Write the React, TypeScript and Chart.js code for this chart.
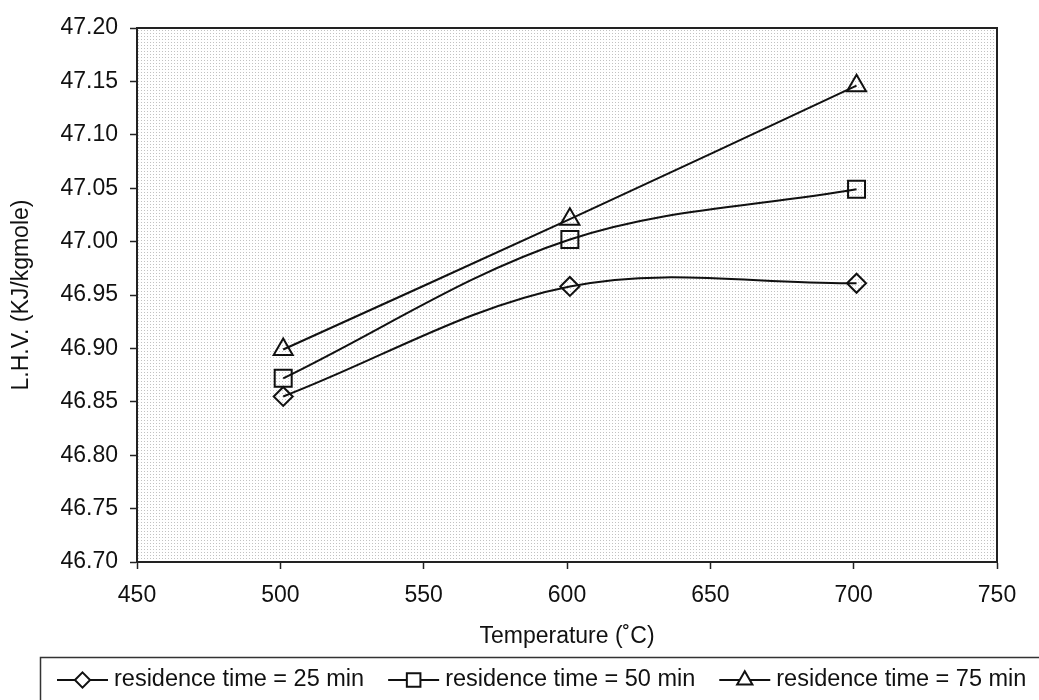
import React, { useEffect, useRef } from "react";
import { Chart, registerables } from "chart.js";

Chart.register(...registerables);

const temperatures = [501, 601, 701];
const lhv25 = [46.855, 46.958, 46.961];
const lhv50 = [46.872, 47.002, 47.049];
const lhv75 = [46.899, 47.021, 47.146];
const seriesLabels = [
  "residence time = 25 min",
  "residence time = 50 min",
  "residence time = 75 min",
];
const seriesMarkers = ["rectRot", "rect", "triangle"];
const markerRadius = [9.5, 12, 11];
const xTicks = [450, 500, 550, 600, 650, 700, 750];
const yTicks = [46.7, 46.75, 46.8, 46.85, 46.9, 46.95, 47.0, 47.05, 47.1, 47.15, 47.2];
const xTitle = "Temperature (˚C)";
const yTitle = "L.H.V. (KJ/kgmole)";

const FONT = "'Liberation Sans', Arial, sans-serif";
const INK = "#111";

function drawMarker(ctx: CanvasRenderingContext2D, style: string, r: number, cx: number, cy: number) {
  ctx.save();
  ctx.strokeStyle = INK;
  ctx.lineWidth = 2;
  ctx.fillStyle = "#fff";
  ctx.beginPath();
  if (style === "rectRot") {
    ctx.moveTo(cx, cy - r);
    ctx.lineTo(cx + r, cy);
    ctx.lineTo(cx, cy + r);
    ctx.lineTo(cx - r, cy);
    ctx.closePath();
  } else if (style === "rect") {
    const s = r * Math.SQRT1_2;
    ctx.rect(cx - s, cy - s, 2 * s, 2 * s);
  } else {
    const w = r * Math.sin(Math.PI / 3);
    ctx.moveTo(cx, cy - r);
    ctx.lineTo(cx + w, cy + r / 2);
    ctx.lineTo(cx - w, cy + r / 2);
    ctx.closePath();
  }
  ctx.fill();
  ctx.stroke();
  ctx.restore();
}

export default function App() {
  const ref = useRef<HTMLCanvasElement | null>(null);

  useEffect(() => {
    if (!ref.current) return;
    const tile = document.createElement("canvas");
    tile.width = 3;
    tile.height = 3;
    const tctx = tile.getContext("2d")!;
    tctx.fillStyle = "#c2c2c2";
    tctx.fillRect(0, 0, 1, 1);

    const seriesValues = [lhv25, lhv50, lhv75];

    const plotPlugin = {
      id: "plotDecor",
      beforeDatasetsDraw(chart: any) {
        const { ctx, chartArea: a } = chart;
        ctx.save();
        const pat = ctx.createPattern(tile, "repeat");
        ctx.fillStyle = pat;
        ctx.fillRect(a.left, a.top, a.right - a.left, a.bottom - a.top);
        ctx.restore();
      },
      afterDraw(chart: any) {
        const { ctx, chartArea: a } = chart;
        ctx.save();
        ctx.strokeStyle = "#222";
        ctx.lineWidth = 2;
        ctx.strokeRect(a.left, a.top, a.right - a.left, a.bottom - a.top);

        // legend box
        ctx.lineWidth = 1.5;
        ctx.strokeStyle = "#333";
        ctx.strokeRect(40.5, 657.5, 1020, 80);
        ctx.font = `23.5px ${FONT}`;
        ctx.textBaseline = "middle";
        const y = 680;
        let x = 57;
        seriesLabels.forEach((label, i) => {
          const lineW = 51;
          ctx.strokeStyle = INK;
          ctx.lineWidth = 2;
          ctx.beginPath();
          ctx.moveTo(x, y);
          ctx.lineTo(x + lineW, y);
          ctx.stroke();
          drawMarker(ctx, seriesMarkers[i], markerRadius[i] * 0.8, x + lineW / 2, y);
          ctx.fillStyle = INK;
          ctx.fillText(label, x + lineW + 6, y);
          const tw = ctx.measureText(label).width;
          x = x + lineW + 6 + tw + 24;
        });
        ctx.restore();
      },
    };

    const chart = new Chart(ref.current, {
      type: "line",
      data: {
        datasets: seriesValues.map((vals, i) => ({
          label: seriesLabels[i],
          data: temperatures.map((t, j) => ({ x: t, y: vals[j] })),
          borderColor: INK,
          borderWidth: 2,
          backgroundColor: "rgba(0,0,0,0)",
          pointStyle: seriesMarkers[i] as any,
          pointRadius: markerRadius[i],
          pointBorderWidth: 2,
          pointBorderColor: INK,
          pointBackgroundColor: "rgba(0,0,0,0)",
          tension: 0.35,
          fill: false,
        })),
      },
      options: {
        animation: false,
        responsive: true,
        maintainAspectRatio: false,
        layout: { padding: { top: 28, right: 42, bottom: 43, left: 0 } },
        plugins: { legend: { display: false }, tooltip: { enabled: false } },
        scales: {
          x: {
            type: "linear",
            min: 450,
            max: 750,
            afterBuildTicks: (s: any) => {
              s.ticks = xTicks.map((v) => ({ value: v }));
            },
            afterFit: (s: any) => {
              s.height = 95;
            },
            grid: {
              display: true,
              drawOnChartArea: false,
              drawTicks: true,
              tickLength: 7,
              tickColor: "#222",
              tickWidth: 1.5,
            },
            border: { display: true, color: "#222", width: 2 },
            ticks: {
              color: INK,
              font: { family: FONT, size: 23 },
              padding: 13,
              maxRotation: 0,
              autoSkip: false,
              callback: (v: any) => String(v),
            },
            title: {
              display: true,
              text: xTitle,
              color: INK,
              font: { family: FONT, size: 23 },
              padding: { top: 0, bottom: 7 },
            },
          },
          y: {
            type: "linear",
            min: 46.7,
            max: 47.2,
            afterBuildTicks: (s: any) => {
              s.ticks = yTicks.map((v) => ({ value: v }));
            },
            afterFit: (s: any) => {
              s.width = 137;
            },
            grid: {
              display: true,
              drawOnChartArea: false,
              drawTicks: true,
              tickLength: 7,
              tickColor: "#222",
              tickWidth: 1.5,
            },
            border: { display: true, color: "#222", width: 2 },
            ticks: {
              color: INK,
              font: { family: FONT, size: 23 },
              padding: 12,
              autoSkip: false,
              callback: (v: any) => Number(v).toFixed(2),
            },
            title: {
              display: true,
              text: yTitle,
              color: INK,
              font: { family: FONT, size: 23 },
              padding: { top: 8, bottom: 0 },
            },
          },
        },
      },
      plugins: [plotPlugin],
    });

    return () => chart.destroy();
  }, []);

  return (
    <div style={{ position: "absolute", left: 0, top: 0, width: 1039, height: 700, background: "#fff" }}>
      <canvas ref={ref} />
    </div>
  );
}
